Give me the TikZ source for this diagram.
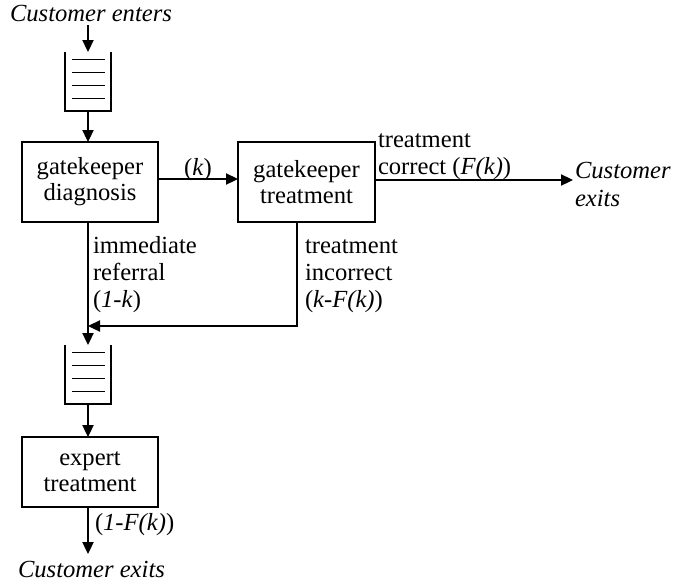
\documentclass[tikz,border=0pt]{standalone}
\usepackage{fontspec}
\setmainfont{Liberation Serif}
\usetikzlibrary{arrows.meta}
\begin{document}
\begin{tikzpicture}[x=1pt,y=-1pt,
  every node/.style={font=\fontsize{24.6}{26}\selectfont, inner sep=0pt, outer sep=0pt},
  box/.style={draw, line width=1.4pt, align=center, minimum width=136pt},
  lbl/.style={anchor=base west},
  arr/.style={line width=2.3pt, -{Triangle[length=12pt,width=11pt]}},
  qwall/.style={line width=2.7pt},
  qline/.style={line width=1pt},
  qbox/.style={minimum width=46pt, minimum height=59pt, draw=none}
]
\useasboundingbox (0,0) rectangle (675,584);

% boxes
\node[box, minimum height=80pt] (gd) at (90,182) {gatekeeper\\diagnosis};
\node[box, minimum width=137pt, minimum height=80pt] (gt) at (306.5,182) {gatekeeper\\treatment};
\node[box, minimum height=70pt] (et) at (90,472) {expert\\treatment};

% queues
\node[qbox] (q1) at (88,81.5) {};
\node[qbox] (q2) at (88,374.5) {};
\foreach \q in {q1,q2}{
  \draw[qwall] (\q.north west) -- (\q.south west) -- (\q.south east) -- (\q.north east);
  \foreach \d in {7,20,33,46}{
    \draw[qline] ([xshift=7pt,yshift=-\d pt]\q.north west) -- ([xshift=-6pt,yshift=-\d pt]\q.north east);
  }
}

% coordinates
\coordinate (in) at (88,25);
\coordinate (exit1) at (573,180);
\coordinate (turn) at (297,326);
\coordinate (out2) at (88,554);

% connectors
\draw[arr] (in) -- (q1.north);
\draw[arr] (q1.south) -- (q1.south |- gd.north);
\draw[arr] ([yshift=3pt]gd.east) -- ([yshift=3pt]gd.east -| gt.west)
  node[midway, anchor=base, yshift=4pt] (klbl) {(\textit{k})};
\draw[arr] (gt.east |- exit1) -- (exit1);
\draw[arr] (q2.north |- gd.south) -- (q2.north);
\draw[arr] (turn |- gt.south) -- (turn) -- (q2.north |- turn);
\draw[arr] (q2.south) -- (q2.south |- et.north);
\draw[arr] (out2 |- et.south) -- (out2);

% labels
\node[lbl] (cin) at (10,21) {\itshape Customer enters};
\node[lbl] (tc1) at (378,147) {treatment};
\node[lbl] (tc2) at (378,174) {correct (\textit{F(k)})};
\node[lbl] (ce1) at (575,178) {\itshape Customer};
\node[lbl] (ce2) at (575,206) {\itshape exits};
\node[lbl] (ir1) at (93,253) {immediate};
\node[lbl] (ir2) at (93,280) {referral};
\node[lbl] (ir3) at (93,307) {(\textit{1-k})};
\node[lbl] (ti1) at (305,253) {treatment};
\node[lbl] (ti2) at (305,280) {incorrect};
\node[lbl] (ti3) at (305,307) {(\textit{k-F(k)})};
\node[lbl] (ef) at (95,530) {(\textit{1-F(k)})};
\node[lbl] (cout) at (18,577) {\itshape Customer exits};
\end{tikzpicture}
\end{document}
